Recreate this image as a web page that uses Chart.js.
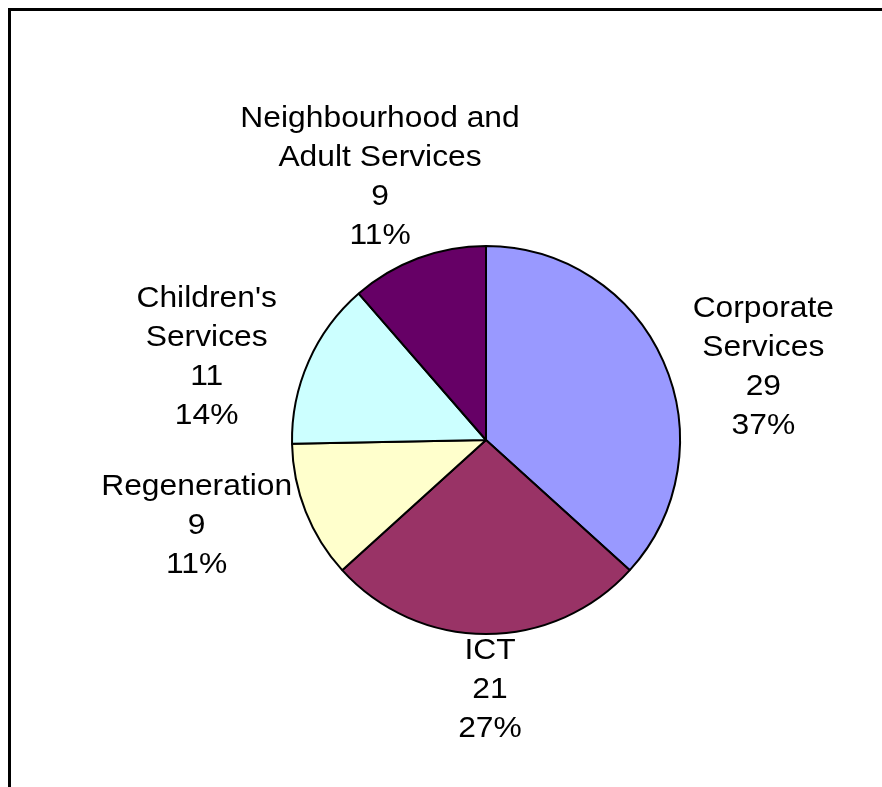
<!DOCTYPE html>
<html>
<head>
<meta charset="utf-8">
<script src="https://cdn.jsdelivr.net/npm/chart.js@4"></script>
<style>
  html, body { margin: 0; padding: 0; background: #ffffff; }
  #wrap { position: relative; width: 882px; height: 787px; }
</style>
</head>
<body>
<div id="wrap"><canvas id="c" width="882" height="787"></canvas></div>
<script>
// ---- data ----
const categories = ["Corporate Services", "ICT", "Regeneration", "Children's Services", "Neighbourhood and Adult Services"];
const labelLines = [["Corporate", "Services"], ["ICT"], ["Regeneration"], ["Children's", "Services"], ["Neighbourhood and", "Adult Services"]];
const values = [29, 21, 9, 11, 9];
const colors = ["#9999FF", "#993366", "#FFFFCC", "#CCFFFF", "#660066"];
// label nudges relative to the slice's outer mid-point (layout, not data)
const labelNudge = [[100, 6], [4, 56], [-109, 14], [-102, -4], [-38, -81]];

const total = values.reduce((a, b) => a + b, 0);

const framePlugin = {
  id: 'frame',
  beforeDraw(chart) {
    const ctx = chart.ctx;
    ctx.save();
    ctx.fillStyle = '#ffffff';
    ctx.fillRect(0, 0, chart.width, chart.height);
    ctx.fillStyle = '#000000';
    ctx.fillRect(8, 8, chart.width - 8, 3);
    ctx.fillRect(8, 8, 3, chart.height - 8);
    ctx.restore();
  }
};

const labelPlugin = {
  id: 'sliceLabels',
  afterDatasetsDraw(chart) {
    const ctx = chart.ctx;
    const meta = chart.getDatasetMeta(0);
    const lineH = 39;
    meta.data.forEach((arc, i) => {
      const p = arc.getProps(['x', 'y', 'startAngle', 'endAngle', 'outerRadius'], true);
      const mid = (p.startAngle + p.endAngle) / 2;
      const ax = p.x + Math.cos(mid) * p.outerRadius;
      const ay = p.y + Math.sin(mid) * p.outerRadius;
      const cx = ax + labelNudge[i][0];
      const cy = ay + labelNudge[i][1];
      const lines = labelLines[i].concat([String(values[i]), Math.round(values[i] / total * 100) + '%']);
      const y0 = cy - (lines.length - 1) * lineH / 2;
      ctx.save();
      ctx.translate(cx, 0);
      ctx.scale(1.06, 1);
      ctx.font = '30px "Liberation Sans", Arial, sans-serif';
      ctx.fillStyle = '#000000';
      ctx.textAlign = 'center';
      ctx.textBaseline = 'middle';
      lines.forEach((t, k) => ctx.fillText(t, 0, y0 + k * lineH));
      ctx.restore();
    });
  }
};

new Chart(document.getElementById('c'), {
  type: 'pie',
  data: {
    labels: categories,
    datasets: [{
      data: values,
      backgroundColor: colors,
      borderColor: '#000000',
      borderWidth: 2,
      borderAlign: 'center'
    }]
  },
  options: {
    responsive: false,
    animation: false,
    layout: { padding: { left: 291, right: 201, top: 245, bottom: 152 } },
    plugins: { legend: { display: false }, tooltip: { enabled: false } }
  },
  plugins: [framePlugin, labelPlugin]
});
</script>
</body>
</html>
